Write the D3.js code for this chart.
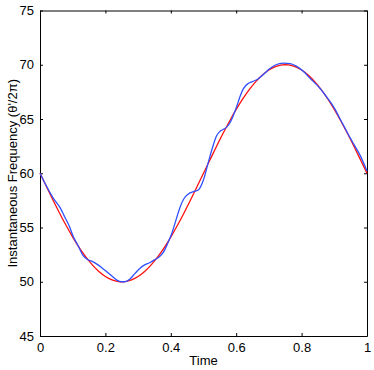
<!DOCTYPE html>
<html>
<head>
<meta charset="utf-8" />
<style>
	body { margin: 0; background: #fff; }
	svg { display: block; font-family: "Liberation Sans", Arial, sans-serif; }
	.tick text { font-size: 13px; fill: #000; }
</style>
</head>
<body>
<div id="chart"></div>
<script src="https://cdnjs.cloudflare.com/ajax/libs/d3/7.8.5/d3.min.js"></script>
<script>
	// red: model frequency, sampled every 0.02
	var redTime = [0, 0.02, 0.04, 0.06, 0.08, 0.1, 0.12, 0.14, 0.16, 0.18, 0.2, 0.22, 0.24, 0.26, 0.28, 0.3,
		0.32, 0.34, 0.36, 0.38, 0.4, 0.42, 0.44, 0.46, 0.48, 0.5, 0.52, 0.54, 0.56, 0.58, 0.6, 0.62, 0.64,
		0.66, 0.68, 0.7, 0.72, 0.74, 0.76, 0.78, 0.8, 0.82, 0.84, 0.86, 0.88, 0.9, 0.92, 0.94, 0.96, 0.98, 1];
	var redFreq = [60, 58.75, 57.51, 56.32, 55.18, 54.12, 53.15, 52.29, 51.56, 50.95, 50.49, 50.18, 50.02,
		50.02, 50.18, 50.49, 50.95, 51.56, 52.29, 53.15, 54.12, 55.18, 56.32, 57.51, 58.75, 60, 61.25, 62.49,
		63.68, 64.82, 65.88, 66.85, 67.71, 68.44, 69.05, 69.51, 69.82, 69.98, 69.98, 69.82, 69.51, 69.05,
		68.44, 67.71, 66.85, 65.88, 64.82, 63.68, 62.49, 61.25, 60];

	// blue: estimated frequency
	var blueTime = [0, 0.02, 0.041, 0.061, 0.076, 0.09, 0.102, 0.117, 0.132, 0.145, 0.158, 0.175, 0.189,
		0.205, 0.219, 0.235, 0.25, 0.262, 0.275, 0.29, 0.306, 0.32, 0.335, 0.352, 0.365, 0.377, 0.39, 0.403,
		0.416, 0.428, 0.44, 0.452, 0.469, 0.484, 0.5, 0.515, 0.53, 0.54, 0.55, 0.561, 0.571, 0.581, 0.591,
		0.601, 0.612, 0.622, 0.637, 0.65, 0.663, 0.683, 0.703, 0.72, 0.744, 0.765, 0.785, 0.805, 0.826,
		0.856, 0.875, 0.892, 0.905, 0.917, 0.932, 0.948, 0.963, 0.979, 1];
	var blueFreq = [60, 58.8, 57.69, 56.85, 55.95, 55.1, 54.15, 53.3, 52.4, 52.05, 51.9, 51.6, 51.3,
		50.9, 50.55, 50.15, 50, 50.02, 50.25, 50.75, 51.25, 51.55, 51.75, 52.05, 52.3, 52.7, 53.5, 54.45,
		55.7, 56.85, 57.65, 58.05, 58.3, 58.45, 59.4, 61.05, 62.6, 63.45, 63.85, 64.05, 64.25, 64.65, 65.3,
		66.1, 67.1, 67.8, 68.28, 68.45, 68.62, 69.1, 69.65, 69.98, 70.15, 70.1, 69.85, 69.4, 68.75,
		67.83, 67.1, 66.4, 65.75, 65.05, 64.2, 63.3, 62.5, 61.65, 60.2];

	var xTicks = [0, 0.2, 0.4, 0.6, 0.8, 1];
	var yTicks = [45, 50, 55, 60, 65, 70, 75];

	var W = 374, H = 370;
	var margin = { top: 10.5, right: 7, bottom: 34, left: 40 };
	var width = W - margin.left - margin.right;
	var height = H - margin.top - margin.bottom;

	var svg = d3.select('#chart').append('svg').attr('width', W).attr('height', H);
	var g = svg.append('g').attr('transform', 'translate(' + margin.left + ',' + margin.top + ')');

	var x = d3.scaleLinear().domain([0, 1]).range([0, width]);
	var y = d3.scaleLinear().domain([45, 75]).range([height, 0]);

	var fmt = d => (d === 0 || d === 1 ? d3.format('d')(d) : d3.format('.1f')(d));

	// axes on all four sides, ticks pointing inward
	g.append('g').attr('transform', 'translate(0,' + height + ')')
		.call(d3.axisBottom(x).tickValues(xTicks).tickFormat(fmt).tickSizeInner(-3).tickSizeOuter(0).tickPadding(7));
	g.append('g')
		.call(d3.axisTop(x).tickValues(xTicks).tickFormat('').tickSizeInner(-3).tickSizeOuter(0));
	g.append('g')
		.call(d3.axisLeft(y).tickValues(yTicks).tickSizeInner(-3).tickSizeOuter(0).tickPadding(6));
	g.append('g').attr('transform', 'translate(' + width + ',0)')
		.call(d3.axisRight(y).tickValues(yTicks).tickFormat('').tickSizeInner(-3).tickSizeOuter(0));

	g.selectAll('.domain').attr('stroke', '#000');
	g.selectAll('.tick line').attr('stroke', '#000');

	var line = d3.line().x(d => x(d[0])).y(d => y(d[1]));

	g.append('path')
		.datum(d3.zip(redTime, redFreq))
		.attr('fill', 'none')
		.attr('stroke', '#ff1010')
		.attr('stroke-width', 1.3)
		.attr('d', line.curve(d3.curveNatural));

	g.append('path')
		.datum(d3.zip(blueTime, blueFreq))
		.attr('fill', 'none')
		.attr('stroke', '#3050ff')
		.attr('stroke-width', 1.3)
		.attr('d', line.curve(d3.curveMonotoneX));

	svg.append('text')
		.attr('x', margin.left + width / 2)
		.attr('y', 365)
		.attr('text-anchor', 'middle')
		.style('font-size', '13px')
		.text('Time');

	svg.append('text')
		.attr('transform', 'translate(17,' + (margin.top + height / 2) + ') rotate(-90)')
		.attr('text-anchor', 'middle')
		.style('font-size', '13px')
		.text('Instantaneous Frequency (θ\'/2π)');
</script>
</body>
</html>
